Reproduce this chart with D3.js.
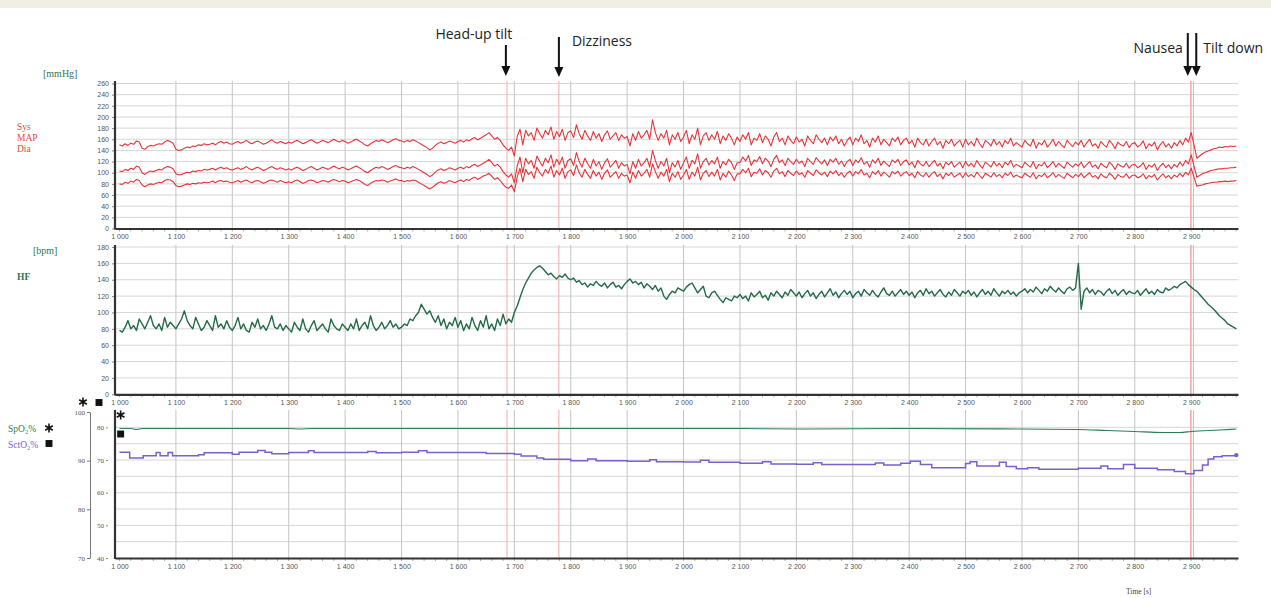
<!DOCTYPE html>
<html>
<head>
<meta charset="utf-8">
<script src="https://cdn.jsdelivr.net/npm/d3@7"></script>
<style>
  body { margin: 0; background: #fff; }
</style>
</head>
<body>
<div id="chart"></div>
<script>
// samples every 5 s starting at 1000 s
const timeStart = 1000, timeStep = 5;

const sys = [
  150, 148, 152, 149, 153, 151, 157, 155, 144, 142, 147, 149, 148, 150, 152, 151, 155, 158, 156, 153,
  142, 140, 141, 144, 146, 145, 148, 147, 150, 149, 152, 150, 151, 153, 150, 154, 156, 153, 155, 152,
  151, 154, 156, 153, 155, 158, 154, 152, 155, 157, 154, 151, 153, 156, 159, 155, 153, 156, 154, 152,
  155, 153, 156, 158, 155, 152, 154, 157, 159, 156, 153, 155, 158, 156, 154, 157, 160, 157, 155, 158,
  156, 153, 155, 158, 160, 157, 154, 150, 148, 152, 155, 158, 156, 159, 157, 154, 156, 159, 161, 158,
  157, 155, 158, 156, 159, 157, 154, 151, 148, 145, 141, 144, 149, 153, 155, 152, 154, 157, 155, 153,
  156, 158, 155, 159, 157, 161, 163, 159, 162, 165, 168, 172, 166, 160, 163, 158, 150, 144, 140, 146,
  130, 165, 178, 150, 176, 166, 172, 158, 180, 170, 162, 176, 168, 182, 160, 174, 165, 178, 158, 172,
  175, 163, 186, 170, 160, 176, 166, 158, 174, 162, 170, 156, 168, 175, 160, 166, 172, 158, 168, 162,
  165, 148, 170, 158, 174, 162, 168, 176, 160, 195, 172, 158, 170, 162, 176, 150, 168, 160, 172, 156,
  164, 176, 152, 168, 160, 180, 150, 166, 172, 158, 168, 160, 174, 152, 166, 158, 170, 162, 150, 164,
  156, 168, 160, 172, 150, 162, 158, 170, 154, 166, 160, 148, 164, 172, 156, 162, 150, 166, 158, 152,
  164, 155, 160, 148, 166, 158, 152, 168, 160, 154, 162, 150, 164, 157, 166, 152, 160, 148, 158, 164,
  150, 162, 156, 168, 152, 158, 146, 162, 155, 166, 150, 160, 154, 148, 162, 156, 164, 150, 158, 162,
  152, 158, 146, 162, 154, 150, 160, 148, 156, 162, 150, 156, 144, 158, 152, 160, 148, 154, 158, 146,
  160, 150, 156, 148, 162, 152, 145, 158, 154, 148, 160, 150, 156, 146, 158, 152, 162, 148, 154, 150,
  146, 158, 152, 148, 160, 144, 154, 150, 158, 146, 152, 160, 148, 156, 150, 145, 158, 152, 147, 155,
  150, 158, 146, 154, 160, 148, 152, 144, 156, 150, 146, 158, 152, 143, 155, 150, 148, 156, 145, 152,
  154, 146, 150, 157, 143, 152, 148, 155, 141, 150, 156, 146, 152, 144, 154, 148, 158, 150, 162, 155,
  172, 150, 126, 130, 134, 137, 139, 141, 143, 144, 146, 145, 147, 146, 148, 147, 148
];

const map = [
  103, 102, 106, 104, 108, 106, 112, 110, 100, 97, 101, 103, 102, 104, 106, 105, 109, 111, 110, 107,
  98, 96, 97, 99, 101, 100, 103, 102, 104, 103, 106, 105, 106, 108, 105, 108, 110, 107, 109, 106,
  105, 107, 109, 106, 108, 111, 107, 105, 108, 110, 107, 104, 106, 109, 111, 108, 106, 109, 107, 105,
  107, 105, 108, 110, 107, 104, 106, 109, 111, 108, 105, 107, 110, 108, 106, 109, 112, 109, 107, 110,
  108, 105, 107, 110, 112, 109, 106, 102, 100, 104, 107, 110, 108, 111, 109, 106, 108, 111, 113, 110,
  109, 107, 110, 108, 111, 109, 106, 103, 100, 97, 93, 96, 101, 105, 107, 104, 106, 109, 107, 105,
  108, 110, 107, 111, 109, 113, 115, 111, 114, 117, 120, 124, 118, 112, 115, 110, 102, 96, 92, 98,
  82, 112, 128, 100, 126, 116, 122, 108, 130, 120, 112, 126, 118, 132, 110, 124, 115, 128, 108, 122,
  125, 113, 136, 120, 110, 126, 116, 108, 124, 112, 120, 106, 118, 125, 110, 116, 122, 108, 118, 112,
  115, 98, 120, 108, 124, 112, 118, 126, 110, 140, 122, 108, 120, 112, 126, 100, 118, 110, 122, 106,
  118, 128, 108, 122, 116, 134, 108, 120, 126, 114, 122, 116, 128, 108, 120, 114, 124, 118, 106, 118,
  118, 128, 121, 131, 113, 123, 120, 129, 116, 126, 121, 111, 124, 131, 118, 123, 113, 126, 120, 115,
  124, 117, 121, 111, 126, 120, 115, 127, 121, 116, 123, 113, 124, 119, 126, 115, 121, 111, 120, 124,
  113, 123, 118, 127, 115, 120, 110, 123, 117, 126, 113, 121, 116, 111, 123, 118, 124, 113, 120, 123,
  114, 119, 109, 122, 116, 112, 120, 111, 117, 122, 112, 117, 107, 119, 114, 120, 110, 115, 119, 109,
  120, 112, 117, 110, 122, 114, 108, 119, 115, 110, 120, 112, 117, 109, 119, 114, 122, 110, 115, 112,
  109, 119, 114, 110, 120, 107, 115, 112, 119, 109, 114, 120, 110, 117, 112, 108, 119, 114, 110, 116,
  112, 119, 109, 115, 120, 110, 114, 107, 117, 112, 109, 119, 114, 106, 116, 112, 110, 117, 108, 114,
  115, 109, 112, 118, 106, 114, 110, 116, 104, 112, 117, 109, 114, 107, 115, 110, 119, 112, 122, 116,
  132, 112, 92, 95, 98, 100, 102, 104, 105, 106, 107, 107, 108, 108, 109, 109, 110
];

const dia = [
  80, 79, 83, 81, 85, 83, 88, 86, 78, 75, 78, 80, 79, 81, 83, 82, 86, 88, 87, 84,
  77, 75, 76, 78, 80, 79, 81, 80, 82, 81, 83, 82, 83, 85, 82, 85, 86, 84, 85, 83,
  82, 84, 86, 83, 85, 87, 84, 82, 85, 86, 84, 81, 83, 86, 87, 85, 83, 86, 84, 82,
  84, 82, 85, 87, 84, 81, 83, 86, 87, 85, 82, 84, 86, 85, 83, 86, 88, 86, 84, 86,
  85, 82, 84, 86, 88, 86, 83, 79, 77, 81, 84, 86, 85, 87, 86, 83, 85, 87, 89, 86,
  86, 84, 86, 85, 87, 86, 83, 80, 77, 74, 71, 74, 78, 82, 84, 81, 83, 86, 84, 82,
  85, 87, 84, 88, 86, 90, 92, 88, 91, 94, 96, 99, 94, 88, 91, 86, 79, 74, 72, 78,
  66, 92, 108, 84, 106, 97, 102, 90, 110, 100, 94, 106, 99, 112, 92, 104, 96, 108, 90, 102,
  105, 95, 114, 100, 92, 106, 97, 90, 104, 94, 101, 88, 99, 105, 92, 97, 102, 90, 99, 94,
  96, 82, 101, 90, 104, 94, 99, 106, 92, 116, 102, 90, 101, 94, 106, 84, 99, 92, 102, 88,
  96, 106, 88, 101, 94, 110, 87, 99, 104, 93, 101, 94, 106, 87, 99, 92, 103, 96, 86, 98,
  98, 106, 100, 108, 93, 101, 99, 107, 96, 104, 100, 92, 103, 108, 98, 102, 93, 104, 99, 95,
  103, 97, 100, 92, 104, 99, 95, 105, 100, 96, 101, 93, 103, 98, 104, 95, 100, 92, 99, 103,
  94, 102, 98, 106, 96, 99, 91, 102, 97, 104, 94, 101, 97, 92, 102, 98, 103, 94, 99, 102,
  95, 99, 91, 102, 96, 93, 100, 92, 98, 102, 93, 98, 89, 99, 95, 100, 92, 96, 99, 91,
  100, 93, 97, 92, 101, 95, 90, 99, 96, 92, 100, 93, 97, 91, 99, 95, 101, 92, 96, 93,
  91, 99, 95, 92, 100, 89, 96, 93, 99, 91, 95, 100, 92, 97, 93, 90, 99, 95, 91, 97,
  93, 99, 91, 96, 100, 92, 95, 89, 98, 93, 91, 99, 95, 88, 97, 93, 92, 98, 90, 95,
  96, 91, 93, 98, 89, 95, 92, 97, 87, 93, 98, 91, 95, 89, 96, 92, 99, 93, 101, 96,
  108, 92, 76, 77, 78, 80, 81, 82, 83, 83, 84, 84, 85, 84, 85, 85, 86
];

const hr = [
  78, 76, 82, 90, 80, 84, 78, 92, 86, 80, 88, 96, 84, 80, 86, 78, 94, 82, 88, 84,
  80, 86, 92, 102, 90, 84, 80, 94, 86, 78, 82, 90, 84, 78, 96, 82, 86, 80, 90, 82,
  78, 84, 94, 80, 86, 78, 76, 88, 82, 92, 80, 84, 78, 86, 96, 82, 80, 86, 78, 84,
  80, 76, 88, 82, 78, 92, 80, 76, 84, 90, 78, 82, 86, 80, 76, 92, 84, 80, 78, 86,
  82, 78, 86, 80, 92, 78, 84, 88, 80, 96, 84, 78, 82, 88, 80, 84, 90, 82, 86, 80,
  82, 86, 84, 92, 90, 96, 100, 110, 104, 98, 102, 94, 88, 96, 84, 92, 80, 88, 84, 94,
  82, 90, 78, 86, 80, 94, 84, 78, 90, 82, 96, 80, 86, 78, 92, 84, 98, 86, 92, 88,
  100, 108, 118, 128, 136, 142, 148, 152, 155, 157, 154, 150, 146, 148, 144, 141, 145, 143, 147, 142,
  140, 142, 137, 139, 134, 136, 131, 135, 133, 138, 134, 132, 136, 130, 134, 137, 131, 133, 129, 134,
  138, 141, 136, 138, 134, 137, 130, 135, 132, 128, 133, 126, 130, 120, 116, 122, 126, 124, 130, 128,
  126, 131, 134, 136, 130, 124, 128, 132, 120, 118, 124, 126, 121, 116, 112, 118, 116, 114, 120, 118,
  122, 117, 120, 114, 124, 119, 122, 126, 118, 121, 115, 124, 120, 126, 122, 118, 125, 121, 128, 124,
  120, 125, 118, 123, 127, 120, 124, 117, 122, 126, 119, 124, 129, 121, 125, 118, 123, 127, 122, 126,
  118, 123, 126, 120, 128, 124, 121, 127, 122, 119, 125, 130, 123, 121, 126, 120, 124, 128, 122, 126,
  121, 125, 118, 124, 127, 121, 129, 123, 126, 120, 124, 128, 122, 119, 125, 121, 128, 124, 120, 126,
  123, 127, 121, 125, 119, 124, 128, 122, 126, 121, 129, 124, 120, 126, 123, 127, 122, 125, 120, 124,
  126, 129, 124, 128, 125, 131, 127, 123, 129, 126, 132, 128, 125, 130, 126, 123, 129, 131, 127, 130,
  160, 104, 126, 130, 124, 128, 122, 127, 125, 121, 126, 129, 123, 127, 121, 125, 128, 122, 126, 124,
  123, 127, 121, 125, 129, 123, 126, 122, 128, 125, 124, 130, 127, 129, 132, 130, 134, 136, 138, 134,
  131, 128, 126, 122, 118, 114, 110, 107, 104, 100, 96, 93, 90, 86, 84, 82, 80
];

const spo2Time = [1000, 1020, 1030, 1040, 1300, 1320, 1340, 1700, 2100, 2200, 2400, 2600, 2700, 2750, 2800, 2850, 2880, 2900, 2950, 2980];
const spo2 =     [96.6, 96.6, 96.4, 96.6, 96.6, 96.5, 96.6, 96.6, 96.6, 96.5, 96.6, 96.5, 96.4, 96.2, 96.0, 95.8, 95.8, 96.0, 96.3, 96.5];

const sctTime = [1000, 1018, 1042, 1065, 1072, 1086, 1094, 1140, 1150, 1200, 1212, 1245, 1258, 1270, 1300, 1335, 1345, 1400, 1440, 1455,
                 1500, 1530, 1545, 1600, 1650, 1700, 1712, 1740, 1752, 1775, 1800, 1830, 1845, 1900, 1940, 1952, 2000, 2030, 2045, 2100,
                 2140, 2155, 2200, 2230, 2245, 2300, 2340, 2355, 2385, 2402, 2420, 2440, 2500, 2508, 2520, 2560, 2572, 2590, 2610, 2630,
                 2700, 2740, 2752, 2780, 2800, 2840, 2870, 2890, 2905, 2920, 2930, 2940, 2955, 2980];
const sctO2 =   [72.4, 70.6, 71.3, 72.3, 71.3, 72.3, 71.3, 71.6, 72.2, 71.8, 72.4, 72.9, 72.4, 71.9, 72.3, 72.8, 72.3, 72.3, 72.6, 72.2,
                 72.4, 72.8, 72.3, 72.3, 72.0, 71.8, 71.2, 70.6, 70.2, 70.2, 69.8, 70.3, 69.8, 69.6, 70.1, 69.5, 69.4, 69.9, 69.3, 69.0,
                 69.5, 68.8, 68.7, 69.2, 68.6, 68.6, 69.1, 68.5, 69.0, 69.6, 68.6, 67.6, 68.9, 69.5, 68.2, 69.3, 68.0, 67.3, 67.6, 67.2,
                 67.5, 68.2, 67.3, 68.6, 67.5, 67.0, 66.5, 65.8, 66.8, 68.5, 70.3, 71.0, 71.3, 71.5];

const xTicks = [1000, 1100, 1200, 1300, 1400, 1500, 1600, 1700, 1800, 1900, 2000, 2100, 2200, 2300, 2400, 2500, 2600, 2700, 2800, 2900];
const bpTicks = [0, 20, 40, 60, 80, 100, 120, 140, 160, 180, 200, 220, 240, 260];
const hrTicks = [0, 20, 40, 60, 80, 100, 120, 140, 160, 180];
const spo2Ticks = [70, 80, 90, 100];
const sctTicks = [40, 50, 60, 70, 80];
const sctGrid = [45, 50, 55, 60, 65, 70, 75, 80];

const eventLabels = ["Head-up tilt", "Dizziness", "Nausea", "Tilt down"];
const eventTimes = [1685, 1779, 2894, 2909];
const markerTimes = [1687, 1779, 2899, 2904];

// ---------------------------------------------------------------
const W = 1271, H = 598;
const sans = "Liberation Sans, Arial, sans-serif";
const serif = "Liberation Serif, Times New Roman, serif";
const svg = d3.select("#chart").append("svg").attr("width", W).attr("height", H);

svg.append("rect").attr("width", W).attr("height", 8).attr("fill", "#efefe3");

const x = d3.scaleLinear().domain([992, 2983]).range([115, 1238]);
const tOf = i => timeStart + i * timeStep;

const yBP = d3.scaleLinear().domain([0, 260]).range([228.5, 83.5]);
const yHR = d3.scaleLinear().domain([0, 180]).range([394.3, 247]);
const ySp = d3.scaleLinear().domain([70, 100]).range([558, 412]);
const ySct = d3.scaleLinear().domain([40, 84.7]).range([558, 412]);

const fmtX = d => d3.format(",")(d).replace(/,/g, " ");

function panel(y, grid, top, bottom) {
  const g = svg.append("g");
  // horizontal grid
  g.selectAll(".hg").data(grid).enter().append("line")
    .attr("x1", x.range()[0]).attr("x2", x.range()[1])
    .attr("y1", d => y(d)).attr("y2", d => y(d))
    .attr("stroke", "#d6d6d6").attr("stroke-width", 1);
  // vertical grid
  g.selectAll(".vg").data(xTicks.slice(1)).enter().append("line")
    .attr("x1", d => x(d)).attr("x2", d => x(d))
    .attr("y1", top).attr("y2", bottom)
    .attr("stroke", "#c4c4c4").attr("stroke-width", 1);
  // event marker lines
  g.selectAll(".ev").data(markerTimes).enter().append("line")
    .attr("x1", d => x(d)).attr("x2", d => x(d))
    .attr("y1", top).attr("y2", bottom)
    .attr("stroke", "#f3a9a9").attr("stroke-width", 1);
  // minor ticks
  g.selectAll(".mt").data(d3.range(1000, 2981, 20)).enter().append("line")
    .attr("x1", d => x(d)).attr("x2", d => x(d))
    .attr("y1", bottom).attr("y2", bottom + 3)
    .attr("stroke", "#999").attr("stroke-width", 0.8);
  // x axis
  const ax = g.append("g").attr("transform", `translate(0,${bottom})`)
    .call(d3.axisBottom(x).tickValues(xTicks).tickFormat(fmtX).tickSize(0).tickSizeOuter(0).tickPadding(6));
  ax.select(".domain").attr("stroke", "#333").attr("stroke-width", 2.2);
  ax.selectAll("text").style("font-size", "7px").style("fill", "#555").style("font-family", sans);
  return g;
}

function yAxis(y, ticks, top) {
  const ax = svg.append("g").attr("transform", "translate(115,0)")
    .call(d3.axisLeft(y).tickValues(ticks).tickSize(3).tickSizeOuter(0).tickPadding(3));
  ax.select(".domain").remove();
  ax.selectAll(".tick line").attr("stroke", "#888");
  ax.selectAll("text").style("font-size", "7px").style("fill", "#555").style("font-family", sans);
  svg.append("line").attr("x1", 115).attr("x2", 115).attr("y1", top).attr("y2", y.range()[0] + 1)
    .attr("stroke", "#333").attr("stroke-width", 2.2);
}

// panel 1: blood pressure
panel(yBP, bpTicks.slice(1), 81, 228.5);
const bpLine = d3.line().x((d, i) => x(tOf(i))).y(d => yBP(d));
[sys, map, dia].forEach(s => {
  svg.append("path").datum(s).attr("d", bpLine)
    .attr("fill", "none").attr("stroke", "#e6343a").attr("stroke-width", 1.1).attr("stroke-linejoin", "round");
});
yAxis(yBP, bpTicks, 81);

// panel 2: heart rate
panel(yHR, hrTicks.slice(1), 245, 394.3);
svg.append("path").datum(hr)
  .attr("d", d3.line().x((d, i) => x(tOf(i))).y(d => yHR(d)))
  .attr("fill", "none").attr("stroke", "#236b48").attr("stroke-width", 1.4).attr("stroke-linejoin", "round");
yAxis(yHR, hrTicks, 245);

// panel 3: saturation
panel(ySct, sctGrid, 410, 558);
svg.append("path").datum(d3.zip(spo2Time, spo2))
  .attr("d", d3.line().curve(d3.curveMonotoneX).x(d => x(d[0])).y(d => ySp(d[1])))
  .attr("fill", "none").attr("stroke", "#2e7d52").attr("stroke-width", 1.1);
svg.append("path").datum(d3.zip(sctTime, sctO2))
  .attr("d", d3.line().curve(d3.curveStepAfter).x(d => x(d[0])).y(d => ySct(d[1])))
  .attr("fill", "none").attr("stroke", "#7a60cc").attr("stroke-width", 1.5);
svg.append("circle").attr("cx", x(2980)).attr("cy", ySct(71.5)).attr("r", 2.2).attr("fill", "#7a60cc");

svg.append("line").attr("x1", 115).attr("x2", 115).attr("y1", 410).attr("y2", 559)
  .attr("stroke", "#333").attr("stroke-width", 2.2);
// inner (SctO2) axis labels
const inner = svg.append("g").attr("transform", "translate(108,0)")
  .call(d3.axisLeft(ySct).tickValues(sctTicks).tickSize(2).tickSizeOuter(0).tickPadding(2));
inner.select(".domain").remove();
inner.selectAll(".tick line").attr("stroke", "#888");
inner.selectAll("text").style("font-size", "7px").style("fill", "#555").style("font-family", serif);
// outer (SpO2) axis
const outer = svg.append("g").attr("transform", "translate(90,0)")
  .call(d3.axisLeft(ySp).tickValues(spo2Ticks).tickSize(3).tickSizeOuter(0).tickPadding(2));
outer.select(".domain").attr("stroke", "#777").attr("stroke-width", 1);
outer.selectAll(".tick line").attr("stroke", "#777");
outer.selectAll("text").style("font-size", "7px").style("fill", "#555").style("font-family", serif);

// markers (star / square)
const star = d3.symbol().type(d3.symbolAsterisk).size(55);
const square = d3.symbol().type(d3.symbolSquare).size(48);
function mark(type, cx, cy) {
  const p = svg.append("path").attr("d", type === "star" ? star() : square())
    .attr("transform", `translate(${cx},${cy})`);
  if (type === "star") p.attr("fill", "none").attr("stroke", "#111").attr("stroke-width", 1.6);
  else p.attr("fill", "#111");
}
mark("star", 83, 402);
mark("square", 99, 402.5);
mark("star", x(1002), 415);
mark("square", x(1002), 434);
mark("star", 49, 428);
mark("square", 49, 443.5);

// side labels
function label(txt, lx, ly, col, size, weight) {
  svg.append("text").attr("x", lx).attr("y", ly).text(txt)
    .style("font-family", serif).style("font-size", size + "px").style("fill", col)
    .style("font-weight", weight || "normal");
}
label("[mmHg]", 43, 77, "#2f7550", 10);
label("Sys", 17, 130, "#e8473c", 9.5);
label("MAP", 17, 140.5, "#e8473c", 9.5);
label("Dia", 17, 151.5, "#e8473c", 9.5);
label("[bpm]", 33, 254, "#2f7550", 10);
label("HF", 17, 280, "#2f7550", 9.5, "bold");
label("SpO₂%", 8, 432, "#2e7d52", 9.5);
label("SctO₂%", 8, 448, "#7a60cc", 9.5);
label("Time [s]", 1126, 594, "#444", 7.5);

// event arrows
const annot = [
  { top: 45, tip: 76, tx: -32, ty: 39, anchor: "middle" },
  { top: 37, tip: 77, tx: 13, ty: 46, anchor: "start" },
  { top: 33, tip: 76, tx: -5, ty: 53, anchor: "end" },
  { top: 33, tip: 76, tx: 7, ty: 53, anchor: "start" }
];
eventTimes.forEach((t, i) => {
  const ax = x(t), a = annot[i];
  svg.append("line").attr("x1", ax).attr("x2", ax).attr("y1", a.top).attr("y2", a.tip - 8)
    .attr("stroke", "#111").attr("stroke-width", 2);
  svg.append("path")
    .attr("d", `M${ax - 4.5},${a.tip - 10}L${ax + 4.5},${a.tip - 10}L${ax},${a.tip}Z`)
    .attr("fill", "#111");
  svg.append("text").attr("x", ax + a.tx).attr("y", a.ty).attr("text-anchor", a.anchor)
    .style("font-family", "Open Sans, Liberation Sans, sans-serif").style("font-size", "14px")
    .style("fill", "#222").text(eventLabels[i]);
});
</script>
</body>
</html>
